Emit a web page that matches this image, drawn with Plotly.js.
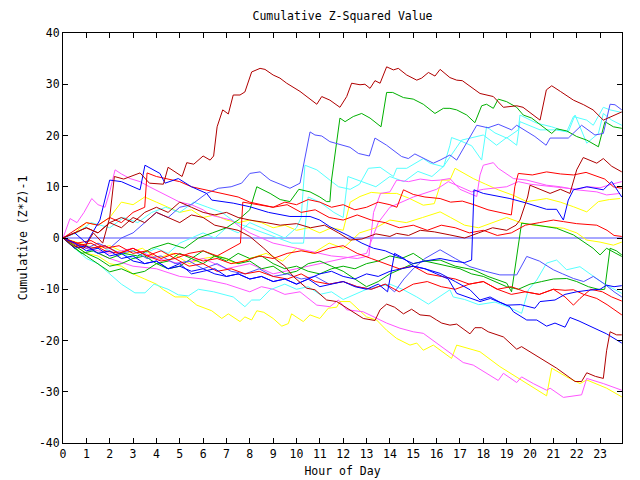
<!DOCTYPE html>
<html>
<head>
<meta charset="utf-8">
<script src="https://cdn.plot.ly/plotly-3.0.1.min.js"></script>
<style>html,body{margin:0;padding:0;background:#fff;}#chart{width:640px;height:480px;}</style>
</head>
<body>
<div id="chart"></div>
<script>
// ---- data: hour of day (x) and cumulative (Z*Z)-1 (y) per series ----
const drTopX = [0,0.4,0.9,1.3,1.7,2.0,2.2,2.6,3.3,3.7,4.3,4.5,5.1,5.3,5.6,6.0,6.3,6.45,6.6,6.84,7.08,7.29,7.58,7.79,8.08,8.44,8.65,9.0,9.29,9.58,10.15,10.87,11.08,11.43,11.86,12.15,12.36,12.72,12.93,13.15,13.36,13.58,13.86,14.15,14.36,14.72,15.15,15.36,15.65,15.93,16.15,16.57,16.86,17.1,17.86,18.43,18.86,19.43,19.7,20.43,20.7,20.93,21.3,21.86,22.3,22.7,23.14,23.4,23.93];
const drTopY = [0,-1.5,-2,1,-1,4,12,11.5,12.7,10.7,10.5,13.8,12,14.7,14.4,16,15.2,16,21.7,25,24.2,27.9,27.9,28.5,32.4,33.1,32.9,31.8,31.2,30.2,28.6,26.1,27.6,26.9,25.5,27.6,30.2,29.9,30.0,29.2,30.7,30.2,33.4,32.8,33.1,31.8,30.8,31.2,32.3,31.6,32.9,31.3,30.8,30.7,28.2,27.6,25.5,25.8,25.5,23.0,28.9,29.7,28.6,26.9,26,25,23,23.5,24.6];

const greenTopX = [0,0.4,0.8,1.3,2,2.6,3.2,3.8,4.5,5.2,5.8,6.4,7.0,7.5,8.0,8.3,8.87,9.3,9.72,10.1,10.58,11.0,11.29,11.43,11.5,11.86,12.08,12.43,12.79,13.15,13.62,13.86,14.12,14.58,15.0,15.43,15.93,16.29,16.57,16.86,17.29,17.64,17.93,18.14,18.43,18.64,19.0,19.43,19.71,20.07,20.43,20.93,21.14,21.57,22.0,22.43,22.93,23.21,23.57,23.93];
const greenTopY = [0,-1.5,-3,-2.5,-4,-3,-3.5,-2,-1,-2,0,1,2,3.5,5.5,10,8.7,7.5,7.1,9.5,9,8,7.1,7.1,11.3,23.4,22.7,23.7,24.3,23.4,21.7,28.4,28.4,27.4,27.1,26.1,24.3,25.3,25.3,25,24,22.5,25.8,26.1,25.3,27.1,26.6,25.5,24,23.4,22.2,20.4,21.3,20.9,19.8,19.1,17.8,22.7,21.7,21.4];

const lblueTopX = [0,0.5,1,1.5,2,2.5,3,3.5,4,4.5,5,5.5,6.15,6.65,7.2,7.65,8.0,8.44,8.87,9.3,9.72,10.15,10.58,10.79,11.08,11.43,12.29,12.65,13.12,13.36,13.86,14.5,14.79,15.07,15.86,16.15,16.57,16.86,17.22,17.72,18.2,18.64,19.21,19.43,20.21,20.69,20.86,21.64,22.21,22.78,23.14,23.43,23.64,23.93];
const lblueTopY = [0,-1,-2,-1,-2,0,1,3,5,4,6,6.5,8.7,9.7,10,10.7,12.6,12.9,11.3,10.5,9.7,10.7,20.7,20.1,19.9,18.8,17.7,16.5,16,19.5,18.1,15.9,15.5,16.4,14.6,15.2,16.2,15.2,18.1,22,21.5,22.2,21.1,22,19.8,18.1,19.5,19.5,22,20.1,20.4,26.1,26,25];

const cyanAX = [0,0.5,1,1.5,2,2.5,3,3.5,4,4.5,5,5.5,6,6.5,7,7.5,8,8.5,9,9.5,10.0,10.2,10.36,10.87,11.43,11.8,12.3,12.7,13.08,13.58,14.15,14.29,14.72,15.07,15.43,15.72,16.15,16.3,16.57,16.64,17.0,17.5,17.93,18.14,18.5,19.0,19.5,19.57,20.29,20.93,21.57,21.86,22.43,22.71,23.14,23.43,23.93];
const cyanAY = [0,-1,-2,-3,-2,-3,-4,-3,-2,-3,-1,0,1,0,2,1,3,2,1,0,2,4,14.2,13.3,11.3,10,9.5,10.5,13.6,13.8,12,13.6,13.6,14.5,15.5,14.6,14,13.9,18.1,19.6,19,18,15.2,21.7,20.5,19.5,21.1,24,22.4,21.7,20.7,23.7,23,22,25.5,25,24.5];

const cyanBX = [0,0.6,1.2,2,2.6,3.2,3.8,4.4,5,5.6,6.2,6.8,7.4,8,8.6,9.2,9.8,10.3,10.5,11,11.6,12.0,12.2,12.8,13.4,14,14.6,15.2,15.8,16.3,16.6,17.07,18,18.57,19,19.43,19.57,20.43,21.07,21.64,21.93,22.43,22.93,23.14,23.5,23.93];
const cyanBY = [0,1,3,2,4,3,5,6,5,7,6,5,3,2,1,0,-1,-1,8,7,5,4,12,11,10,12,11,13,12,14,16,19.1,20.1,18.1,19.6,18.1,22.7,21.1,21.1,20.7,24,18.5,20.4,24.3,23,22];

const drMidX = [0,0.5,1,1.5,2,2.5,3,3.5,4,4.5,5,5.5,6,6.5,7,7.5,8,8.7,9.3,10,10.6,11.2,11.8,12.29,12.8,13.4,14.0,14.29,14.8,15.3,15.9,16.57,17.2,17.8,18.4,19.0,19.4,19.57,19.9,20,20.86,21.3,21.71,22.0,22.28,22.86,23.14,23.5,23.93];
const drMidY = [0,1,2,1,3,4,3,5,6,5,7,6,5,4.5,5,4,3.5,3,2.5,2.8,2,2.5,1,-0.4,-0.2,0.8,0.3,0.9,0.5,1.5,1.2,0.6,0,1,2,1.5,2.5,3.5,8,10.3,8.7,9.5,8.7,13.3,15.7,14.6,15.5,14,12.9];

const magUpX = [0,0.3,0.6,0.9,1.23,1.5,1.8,2.0,2.23,2.5,2.87,3.3,3.7,4.15,4.6,5.0,5.5,6.0,6.3,6.8,7.2,7.58,8.0,8.5,9.0,9.5,10.0,10.5,11.0,11.5,12.0,12.6,13.1,13.3,13.6,14.0,14.29,14.8,15.3,15.8,16.15,16.57,17.0,17.43,17.72,17.86,18.0,18.43,18.64,19.29,19.86,20.71,21.3,22.0,22.86,23.28,23.86];
const magUpY = [0,3.8,3,5,7.7,6.5,6,9,13.3,12.5,11.6,11,10,9,8,7,6.5,5.5,4.5,4,3.5,2.2,1,0,-1,-1.5,-2,-2.5,-3,-3.5,-3.7,-4,-3.5,5,8.7,9,11.3,11,11.5,11.2,11.3,11.6,9.5,8.7,8.1,12.3,14.2,14.7,13.6,11.6,11.3,10.3,10,9.4,9,8.4,8.7];

const magMidX = [0,1,2,3,4,5,6,7,8,9,10,11,12,13,13.5,14,15,16,16.5,17,17.5,18,19,19.5,20,21,22,22.5,23,23.5,23.93];
const magMidY = [0,-2,-3,-2,-4,-5,-4,-6,-5,-7,-6,-5,-4,-3,3,6,8,9.5,11,10,9,9.5,10,11,10.5,10,9.5,10,9.8,10.5,11];

const yelUpX = [0,0.5,1,1.5,2,2.5,3,3.5,4,4.5,5,5.5,6,6.5,7,7.5,8,8.5,9,9.5,10,10.5,11,11.5,12.0,12.3,12.72,13.2,13.7,14.29,14.8,15.43,15.9,16.22,16.57,16.79,17.57,18.1,18.64,19.3,19.86,20.71,21.3,21.86,22.43,22.93,23.4,23.86];
const yelUpY = [0,1,3,2.5,4,7,6.5,8,7,6,5,5.5,4,4.5,3.5,3,3.5,3,2,2.5,1.5,2,1,2,1.5,7,8.1,8.9,8.7,8.7,7.8,6.4,6.7,11.3,11.3,13.6,11.6,10.5,9.4,8.3,7.1,7.7,7,6.1,5.1,7.1,7.5,7.7];

const yelMidX = [0,0.7,1.4,2,2.7,3.4,4,4.7,5.4,6,6.7,7.4,8,8.7,9.4,10,10.7,11.4,12,12.7,13.4,14,14.7,15.4,16.15,16.6,17.2,17.8,18.4,19,19.6,20.14,20.8,21.43,22,22.43,23,23.57,23.93];
const yelMidY = [0,-1,-2,-1.5,-3,-2,-4,-3,-5,-4,-3.5,-5,-4,-3,-4.5,-2,-3,-1,-2,1,2,3.5,3,4,5.1,4,2.5,2,3,4,3,2.5,2.2,1.9,1,-0.4,-0.8,-1.4,-0.8];

const redTopX = [0,0.5,1,1.5,2,2.5,3,3.5,3.6,4,4.5,5,5.5,6,6.5,7,7.5,8,8.5,9,9.5,10,10.5,11,11.5,12,12.5,13,13.5,14,14.3,14.58,15,15.5,16.15,16.6,17.1,17.6,18.2,18.7,19.2,19.35,19.5,20.1,20.71,21.3,21.86,22.4,22.86,23.2,23.57,23.93];
const redTopY = [0,1.5,3,2.5,4,3,5,6,12.7,12,11.5,11,10,9.5,9,8.5,8,7,6.5,6,7,6.5,7.5,7,6,6.5,5.5,6,7,6.5,6,9.4,8.5,8,7.7,7,7.2,6.5,5.5,5,4.5,10,12.6,12.3,12.9,12.5,12.3,12.8,12,11.5,10,9.7];

const redZeroX = [0,0.6,1.2,1.8,2.4,3,3.6,4.2,4.8,5.4,6,6.6,7.2,7.6,7.7,8.4,9,9.6,10.2,10.8,11.4,12,12.6,13.2,13.8,14.4,15,15.6,16.2,16.8,17.4,18,18.6,19.2,19.8,20.4,21,21.43,22,22.86,23.3,23.6,23.93];
const redZeroY = [0,-1,-2,-1.5,-3,-2,-3.5,-2.5,-4,-3,-2.5,-3.5,-2,-1,7,6.5,6,6.5,5,5.5,4,3.5,4.5,3.5,3,2,2.5,1.5,2.5,2,1,1.5,0.5,1,2.5,3,3.5,3.2,2.8,2.5,1.5,0.5,0.3];

const redLow1X = [0,0.6,1.2,1.8,2.4,3,3.6,4.2,4.8,5.4,6,6.6,7.2,7.8,8.4,9,9.6,10.2,10.8,11.4,12,12.6,13.2,13.8,14.4,15,15.6,16.2,16.8,17.4,18,18.6,19.2,19.8,20.4,21,21.5,21.86,22.14,22.6,23.1,23.5,23.93];
const redLow1Y = [0,-1,-0.5,-2,-1.5,-3,-2.5,-4,-3,-3.5,-4.5,-4,-5,-4.5,-3.5,-4,-3,-2.5,-3,-2,-1.5,-3,-4,-5,-6,-5.5,-7,-7.5,-8,-9,-8.5,-10,-9.5,-10.5,-11,-10,-11.5,-13.1,-11.8,-10,-10.5,-11.5,-12.3];

const redLow2X = [0,0.6,1.2,1.8,2.4,3,3.6,4.2,4.8,5.4,6,6.6,7.2,7.8,8.4,9,9.6,10.2,10.8,11.4,12,12.6,13.2,13.8,14.4,15,15.6,16.2,16.8,17.4,18,18.6,19.2,19.8,20.4,21,21.5,21.86,22.3,22.86,23.3,23.6,23.93];
const redLow2Y = [0,-1.5,-1,-2.5,-3,-2,-3.5,-4.5,-4,-5.5,-5,-6.5,-6,-7,-6.5,-7.5,-8,-7,-8.5,-9,-8.5,-9.5,-10,-9,-10.5,-9,-8.5,-9.5,-10,-9,-8.5,-10,-11,-10.5,-11,-10,-10.2,-10.1,-11,-11.8,-13,-14,-15];

const drLowX = [0,0.5,1,1.5,2,2.5,3,3.5,4,4.5,5,5.5,6,6.5,7,7.5,8.0,8.6,9.15,9.5,9.86,10.44,10.79,11.29,11.72,12.15,12.86,13.36,13.58,13.86,14.2,14.58,14.93,15.29,15.72,16.0,16.22,16.57,16.86,17.43,17.64,17.93,18.21,18.86,19.43,19.64,20.43,21.14,21.93,22.21,22.43,22.8,23.14,23.28,23.43,23.71,23.93];
const drLowY = [0,1,2,1,3,2,4,3,5,4,3,4.5,4,2.5,2,1.5,0.3,-2,-4.3,-5.5,-7.5,-9.8,-10.1,-12.1,-12.4,-13.7,-15.7,-16.1,-14,-12.9,-13.5,-14.8,-13.9,-15,-15.2,-16,-16.6,-17,-16.8,-18.7,-17.5,-17.5,-18.3,-19.3,-21.7,-21.2,-23.5,-25.4,-28,-28,-26.3,-27,-27.4,-22,-18.3,-18.9,-18.9];

const blueUpX = [0,0.5,1,1.58,2.0,2.5,3.0,3.3,3.51,4.15,4.37,4.94,5.5,6.15,6.37,7.29,8.0,8.8,9.72,10.58,11.0,11.43,12.29,12.8,13.3,13.8,14.3,15.0,15.5,16.15,16.7,17.2,17.5,17.6,18.0,18.6,19.14,19.86,20.71,21.14,21.43,21.64,21.86,22.43,23.14,23.5,23.93];
const blueUpY = [0,1,-1,3.5,11.3,11,10,9.4,14.2,12.6,10.7,11.6,10,8.7,7.4,6.8,6.1,5,4.2,4.2,3.5,2.2,0.3,-1,-2,-2.5,-3.5,-5,-4.5,-4,-4.5,-4.8,-4.3,9.4,8.7,8.2,7.7,6.8,5.6,5.6,3.5,7.4,9.4,10,9.4,11,8];

const blueMidX = [0,0.5,1,1.5,2,2.5,3,3.5,4,4.5,5,5.5,6,6.5,7,7.5,8,8.5,9,9.5,10,10.5,11,11.5,12,12.5,13,13.5,13.9,14.2,14.6,15,15.5,16,16.5,16.86,17.3,17.86,18.3,19,19.6,20.21,20.43,21.07,21.5,22,22.5,23,23.28,23.6,23.93];
const blueMidY = [0,-2,-1.5,-3,-2.5,-4,-3.5,-5,-4.5,-6,-5,-7,-6.5,-6,-7.5,-7,-8,-7.5,-8.5,-8,-9,-8,-9.5,-9,-8.5,-9.5,-10,-9,-10.5,-3,-4,-5.5,-6,-7,-8,-10.8,-11.5,-12.4,-11.8,-13.1,-13,-13.7,-12.4,-12.1,-11,-10.5,-10.2,-10,-9.2,-9.5,-9.3];

const blueLowX = [0,0.5,1,1.5,2,2.5,3,3.5,4,4.5,5,5.5,6,6.5,7,7.5,8,8.5,9,9.5,10,10.5,11,11.5,12,12.5,13,13.5,14,14.5,15,15.5,16.15,16.8,17.43,17.86,18.29,18.7,19.14,19.29,19.86,20.29,20.71,21.07,21.5,21.71,22.1,22.57,23.28,23.93];
const blueLowY = [0,-1,-2.5,-2,-3.5,-3,-4.5,-5,-4.5,-6,-5.5,-6.5,-6,-7,-7.5,-7,-8,-7.5,-8.5,-8,-9,-8,-7,-6.5,-7.5,-8,-7,-7.5,-6.5,-6,-5.5,-6,-6.9,-8.5,-10.1,-12.1,-11.5,-12.5,-13.4,-14.4,-16,-16,-17.2,-16.6,-17.4,-15.5,-16.2,-17.2,-18.7,-20.5];

const lblueMidX = [0,0.6,1.2,1.8,2.4,3,3.6,4.2,4.8,5.4,6,6.6,7.2,7.8,8.4,9,9.6,10.2,10.8,11.4,12,12.6,13.2,13.8,14.2,14.6,15,15.5,16.15,16.8,17.43,18.1,18.71,19.43,19.86,20.4,21,21.4,21.86,22.3,22.71,23.2,23.6,23.93];
const lblueMidY = [0,-1,-2,-1.5,-3,-2.5,-4,-3.5,-5,-4.5,-6,-5,-6.5,-7,-6,-7.5,-7,-8,-7.5,-9,-8.5,-9.5,-10,-9,-10.5,-8,-6,-4,-2.3,-4,-5.6,-6.5,-7.2,-7.2,-3.6,-4.5,-6.2,-7,-7.9,-8.5,-7.5,-9,-10.5,-11.5];

const lblueZeroX = [0,23.94];
const lblueZeroY = [0,0];

const greenAX = [0,0.5,1,1.5,2,2.5,3,3.5,4,4.5,5,5.5,6,6.5,7,7.5,8,8.5,9,9.5,10,10.5,11,11.5,12,12.5,13,13.5,14,14.5,15,15.5,16.15,16.8,17.57,18.2,19.0,19.21,19.64,20.29,21.14,21.86,22.28,22.7,23.0,23.28,23.6,23.93];
const greenAY = [0,-1.5,-3,-4,-5.5,-5,-4,-3.5,-5,-4.5,-3,-4,-2.5,-3.5,-4,-5,-4.5,-6,-5.5,-7,-6.5,-5,-4.5,-5.5,-6.5,-8,-9.5,-8.5,-7,-6,-5,-4.5,-4.3,-5.5,-6.2,-7.5,-8.8,-10.5,2.9,2.5,1.9,0.6,-0.7,-2,-3.3,-2,-2.8,-3.6];

const greenBX = [0,0.5,1,1.5,2,2.5,3,3.5,4,4.5,5,5.5,6,6.5,7,7.5,8,8.5,9,9.5,10,10.5,11,11.5,12,12.5,13,13.5,14,14.5,15,15.5,16,16.5,17,17.5,18,18.5,19,19.5,20,20.5,21,21.57,22,22.5,23,23.2,23.43,23.7,23.93];
const greenBY = [0,-2,-3.5,-5,-6.6,-6,-7,-6.5,-5,-6,-5.5,-4,-5,-3.5,-4.5,-3,-4,-3.5,-5,-6,-5.5,-6.5,-7,-6,-5.5,-6,-5,-4.5,-3.5,-4,-3,-4.5,-5,-5.5,-6,-7,-7.5,-8.5,-9.5,-10,-9,-8.5,-8,-7.9,-8.5,-9.5,-10.1,-10,-2,-2.5,-3.3];

const cyanLowX = [0,0.5,1,1.5,2,2.5,3.08,3.51,3.9,4.5,4.94,5.37,5.8,6.44,7.29,7.79,8.08,8.44,8.87,9.5,10,10.5,11,11.5,12,12.5,13,13.5,14,14.58,15.15,15.65,16.0,16.57,16.71,17.2,17.8,18.5,19.1,19.64,19.93,20.29,20.71,21.14,21.57,22.14,22.57,23.2,23.93];
const cyanLowY = [0,-2,-4,-5,-7,-9,-10.7,-10.7,-9,-10,-11.1,-11.3,-10,-10.5,-11.5,-13.4,-12.1,-12.1,-10.1,-9,-10,-9.5,-11,-10.5,-12,-11,-10,-9.5,-9,-10.1,-11.5,-12.9,-11.8,-10.1,-11.5,-12,-13,-12.5,-13.5,-14.7,-10.1,-8.2,-4.9,-4.3,-6.2,-5.6,-7,-9,-10.8];

const magLowX = [0,1,2,3,4,5,6,7,8,8.5,9,9.5,10.15,10.87,11.43,11.79,12.15,12.86,13.43,13.86,14.43,15.0,15.43,16.0,16.57,17.14,17.57,18.14,18.64,18.86,19.43,19.64,20.14,20.71,20.86,21.43,22.21,22.43,23.14,23.93];
const magLowY = [0,-2,-4,-5.5,-6,-7.5,-8,-9,-10.5,-9.5,-10,-11,-10.5,-13.1,-13.4,-12.1,-14,-14.4,-15.7,-16.6,-17.6,-18.3,-18.6,-20.5,-22.5,-24.3,-24.8,-26.4,-27.8,-26.4,-28.2,-27.1,-28.4,-29.7,-29.3,-31.1,-30.6,-27.4,-28.4,-29.7];

const yelLowX = [0,0.5,1,1.5,2,2.5,3,3.5,4,4.3,4.8,5.3,5.73,6.37,6.8,7.08,7.58,7.79,8.08,8.3,8.6,9.0,9.37,9.65,9.79,10.29,10.58,11.0,11.36,11.72,11.86,12.29,13.0,13.43,13.86,14.29,14.86,15.15,15.43,15.86,16.15,16.64,16.86,17.86,18.71,19.64,20.43,20.71,20.93,21.57,22.14,22.43,23.28,23.93];
const yelLowY = [0,-1.5,-3,-3.5,-5,-5.5,-7,-8,-9,-10.1,-11.5,-11.5,-13.1,-14.2,-15.7,-14.8,-16.3,-15.4,-16,-14.2,-14.5,-15.7,-17.2,-16.7,-14.8,-16.3,-15,-15.7,-13.7,-13.5,-12.4,-12.4,-15.4,-16,-18,-19.6,-20.9,-20.5,-21.9,-20.9,-21.9,-23.5,-20.9,-22.2,-25.1,-27.7,-30,-30.8,-25.4,-27.1,-28.4,-27.7,-29.3,-31];

const xTickVals = [0,1,2,3,4,5,6,7,8,9,10,11,12,13,14,15,16,17,18,19,20,21,22,23];
const yTickVals = [-40,-30,-20,-10,0,10,20,30,40];

// ---- styling ----
const C = {dr:'#b00000', red:'#ff0000', green:'#00b000', blue:'#0000ff', lblue:'#5050ff', cyan:'#55ffff', mag:'#ff55ff', yel:'#ffff00'};

const series = [
  [lblueZeroX, lblueZeroY, C.lblue],
  [yelLowX, yelLowY, C.yel],
  [magLowX, magLowY, C.mag],
  [cyanLowX, cyanLowY, C.cyan],
  [yelMidX, yelMidY, C.yel],
  [yelUpX, yelUpY, C.yel],
  [cyanBX, cyanBY, C.cyan],
  [cyanAX, cyanAY, C.cyan],
  [magMidX, magMidY, C.mag],
  [magUpX, magUpY, C.mag],
  [greenBX, greenBY, C.green],
  [greenAX, greenAY, C.green],
  [greenTopX, greenTopY, C.green],
  [lblueMidX, lblueMidY, C.lblue],
  [lblueTopX, lblueTopY, C.lblue],
  [redLow2X, redLow2Y, C.red],
  [redLow1X, redLow1Y, C.red],
  [redZeroX, redZeroY, C.red],
  [redTopX, redTopY, C.red],
  [blueLowX, blueLowY, C.blue],
  [blueMidX, blueMidY, C.blue],
  [blueUpX, blueUpY, C.blue],
  [drLowX, drLowY, C.dr],
  [drMidX, drMidY, C.dr],
  [drTopX, drTopY, C.dr]
];

const traces = series.map(s => ({
  x: s[0], y: s[1], type: 'scatter', mode: 'lines',
  line: {color: s[2], width: 1}, hoverinfo: 'skip', showlegend: false
}));

const font = {family: 'DejaVu Sans Mono, monospace', size: 11.5, color: '#000'};

const layout = {
  width: 640, height: 480,
  margin: {l: 63, r: 18, t: 33, b: 37, pad: 0},
  paper_bgcolor: '#fff', plot_bgcolor: '#fff',
  font: font,
  showlegend: false,
  title: {text: 'Cumulative Z-Squared Value', font: font, x: 0.5, xref: 'paper', xanchor: 'center', y: 1 - 16/480, yref: 'container', yanchor: 'middle'},
  xaxis: {
    range: [0, 23.94], tickmode: 'array', tickvals: xTickVals, ticktext: xTickVals.map(String),
    ticks: 'inside', ticklen: 5, tickwidth: 1, tickcolor: '#000',
    showline: true, linecolor: '#000', linewidth: 1, mirror: 'ticks',
    showgrid: false, zeroline: false, tickfont: font,
    title: {text: 'Hour of Day', font: font, standoff: 7}
  },
  yaxis: {
    range: [-40, 40], tickmode: 'array', tickvals: yTickVals, ticktext: yTickVals.map(String),
    ticks: 'inside', ticklen: 5, tickwidth: 1, tickcolor: '#000',
    showline: true, linecolor: '#000', linewidth: 1, mirror: 'ticks',
    showgrid: false, zeroline: false, tickfont: font,
    title: {text: 'Cumulative (Z*Z)-1', font: font, standoff: 8}
  }
};

Plotly.newPlot('chart', traces, layout, {staticPlot: true, displayModeBar: false});
</script>
</body>
</html>
